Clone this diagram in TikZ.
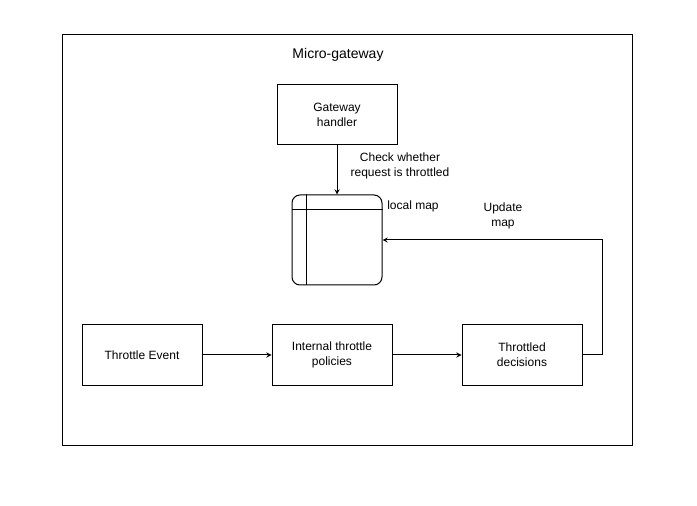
\documentclass[tikz,border=0pt]{standalone}
\usepackage{fontspec}
\setmainfont{Liberation Sans}
\usetikzlibrary{arrows,positioning}

\begin{document}
\begin{tikzpicture}[x=0.75pt, y=-0.75pt, auto, line width=0.75pt,
    block/.style={rectangle, draw, align=center, minimum width=90pt, minimum height=45pt, font=\fontsize{9}{11}\selectfont},
    mapbox/.style={rectangle, draw, rounded corners=6pt, minimum width=67.5pt, minimum height=67.5pt},
    note/.style={align=center, font=\fontsize{9}{11}\selectfont},
    arrow/.style={->, >=stealth}]

    \useasboundingbox (0,0) rectangle (697,506);
    \draw (62,35) rectangle (632,445);
    \node[font=\fontsize{10.5}{12}\selectfont] (title) at (338,55) {Micro-gateway};

    \node[block] (handler) at (337,115) {Gateway\\handler};
    \node[mapbox, below=36.75pt of handler] (map) {};
    \draw ([yshift=-11.25pt]map.north west) -- ([yshift=-11.25pt]map.north east);
    \draw ([xshift=11.25pt]map.north west) -- ([xshift=11.25pt]map.south west);

    \node[block] (event) at (142,355) {Throttle Event};
    \node[block, right=51.75pt of event] (policies) {Internal throttle\\policies};
    \node[block, right=51.75pt of policies] (decisions) {Throttled\\decisions};

    \node[note] (check) at (400,166) {Check whether\\request is throttled};
    \node[note] (maplabel) at (413,206) {local map};
    \node[note] (update) at (503,216) {Update\\map};

    \draw[arrow] (handler) -- (map);
    \draw[arrow] (event) -- (policies);
    \draw[arrow] (policies) -- (decisions);
    \draw[arrow] (decisions.east) -- ++(20,0) |- (map.east);

\end{tikzpicture}
\end{document}
